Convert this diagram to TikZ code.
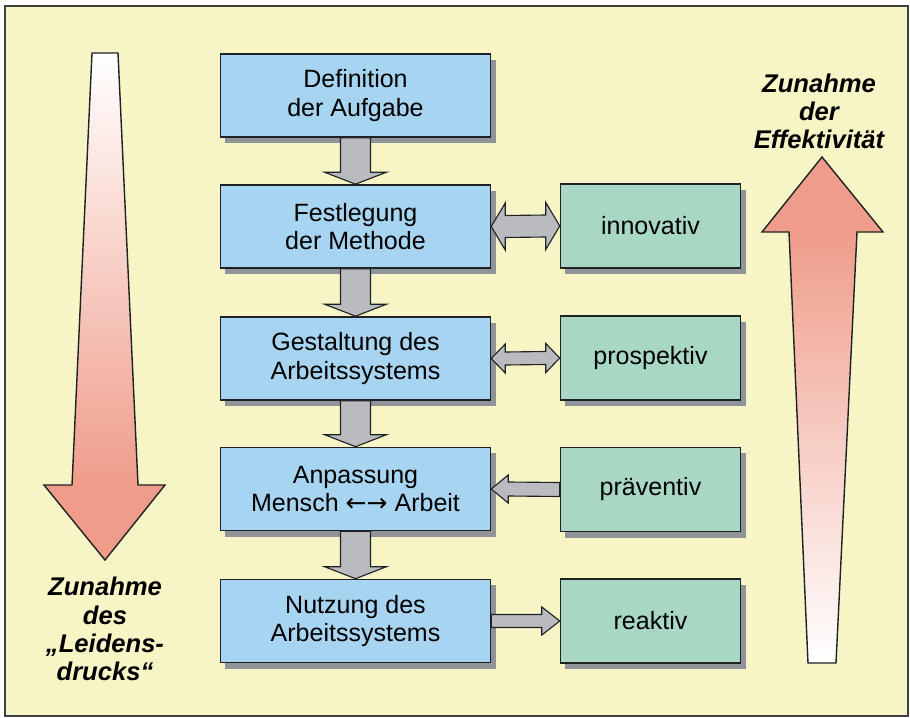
\documentclass[tikz,border=0pt]{standalone}
\usepackage{fontspec}
\setmainfont{Liberation Sans}
\newfontfamily\arrowfont{DejaVu Sans}
\usetikzlibrary{calc, shadows}
\definecolor{bgyellow}{HTML}{F7F5C6}
\definecolor{boxblue}{HTML}{A7D4F1}
\definecolor{boxgreen}{HTML}{A8D8C3}
\definecolor{arrgray}{HTML}{BABBBF}
\definecolor{shadowgray}{HTML}{8E9497}
\definecolor{arrred}{HTML}{EF9D8A}
\definecolor{linecol}{HTML}{1E2224}

% fat connectors between named boxes (pixel units)
\newcommand{\downconn}[2]{%
  \draw[conn] ($(#1.south)+(-15,0)$) -- ($(#2.north)+(-15,-12)$) -- ($(#2.north)+(-31,-12)$)
    -- (#2.north) -- ($(#2.north)+(31,-12)$) -- ($(#2.north)+(15,-12)$) -- ($(#1.south)+(15,0)$) -- cycle;}
% #3 shaft half, #4 head half, #5 head length
\newcommand{\bothconn}[5]{%
  \draw[conn] (#1.east) -- ($(#1.east)+(#5,-#4)$) -- ($(#1.east)+(#5,-#3)$) -- ($(#2.west)+(-#5,-#3)$)
    -- ($(#2.west)+(-#5,-#4)$) -- (#2.west) -- ($(#2.west)+(-#5,#4)$) -- ($(#2.west)+(-#5,#3)$)
    -- ($(#1.east)+(#5,#3)$) -- ($(#1.east)+(#5,#4)$) -- cycle;}
\newcommand{\backconn}[5]{%
  \draw[conn] (#1.east) -- ($(#1.east)+(#5,-#4)$) -- ($(#1.east)+(#5,-#3)$) -- ($(#2.west)+(0,-#3)$)
    -- ($(#2.west)+(0,#3)$) -- ($(#1.east)+(#5,#3)$) -- ($(#1.east)+(#5,#4)$) -- cycle;}
\newcommand{\fwdconn}[5]{%
  \draw[conn] ($(#1.east)+(0,-#3)$) -- ($(#2.west)+(-#5,-#3)$) -- ($(#2.west)+(-#5,-#4)$) -- (#2.west)
    -- ($(#2.west)+(-#5,#4)$) -- ($(#2.west)+(-#5,#3)$) -- ($(#1.east)+(0,#3)$) -- cycle;}

\begin{document}
\begin{tikzpicture}[
    x=0.025cm, y=-0.025cm,
    every node/.style={font=\fontsize{17.8}{20}\selectfont},
    box/.style={draw=linecol, line width=1pt, align=center,
        drop shadow={shadow xshift=0.125cm, shadow yshift=-0.15cm, opacity=1, fill=shadowgray}},
    task/.style={box, fill=boxblue, minimum width=6.75cm, minimum height=2.08cm},
    kind/.style={box, fill=boxgreen, minimum width=4.5cm, minimum height=2.1cm},
    conn/.style={draw=linecol, fill=arrgray, line width=0.8pt, line join=miter},
    side/.style={font=\fontsize{18.2}{20}\selectfont\bfseries\itshape, align=center},
    big/.style={draw=linecol, line width=1pt, line join=miter},
]
\useasboundingbox (0,0) rectangle (910,718);
\fill[white] (0,0) rectangle (910,718);
\draw[black!75, line width=1.2pt, fill=bgyellow] (5,6) rectangle (908,716);

% left big arrow: Leidensdruck
\shade[top color=white, bottom color=arrred] (92,53) -- (118,53) -- (138,485) -- (72,485) -- cycle;
\fill[arrred] (44,485) -- (165,485) -- (105,560) -- cycle;
\draw[big] (92,53) -- (118,53) -- (138,485) -- (165,485) -- (105,560) -- (44,485) -- (72,485) -- cycle;

% right big arrow: Effektivitaet
\shade[top color=arrred, bottom color=white] (789,232) -- (857,232) -- (836,663) -- (808,663) -- cycle;
\fill[arrred] (762,232) -- (883,232) -- (822,157) -- cycle;
\draw[big] (808,663) -- (836,663) -- (857,232) -- (883,232) -- (822,157) -- (762,232) -- (789,232) -- cycle;

\node[side] (leid) at (105,629) {Zunahme\\des\\„Leidens-\\drucks“};
\node[side] (eff) at (819,111) {Zunahme\\der\\Effektivität};

% steps
\node[task] (aufg) at (355.5,95.5) {Definition\\der Aufgabe};
\node[task] (meth) at (355.5,226.5) {Festlegung\\der Methode};
\node[task] (gest) at (355.5,358.5) {Gestaltung des\\Arbeitssystems};
\node[task] (anp) at (355.5,489) {Anpassung\\Mensch {\arrowfont ←→} Arbeit};
\node[task] (nutz) at (355.5,621) {Nutzung des\\Arbeitssystems};

% kinds
\node[kind] (inno) at (650.5,226) {innovativ};
\node[kind] (prosp) at (650.5,358) {prospektiv};
\node[kind] (prae) at (650.5,489.5) {präventiv};
\node[kind] (reak) at (650.5,621) {reaktiv};

\downconn{aufg}{meth}
\downconn{meth}{gest}
\downconn{gest}{anp}
\downconn{anp}{nutz}

\bothconn{meth}{inno}{11}{23.5}{14}
\bothconn{gest}{prosp}{6.5}{14.5}{14}
\backconn{anp}{prae}{7}{14}{17}
\fwdconn{nutz}{reak}{6.5}{14}{18}

\end{tikzpicture}
\end{document}
